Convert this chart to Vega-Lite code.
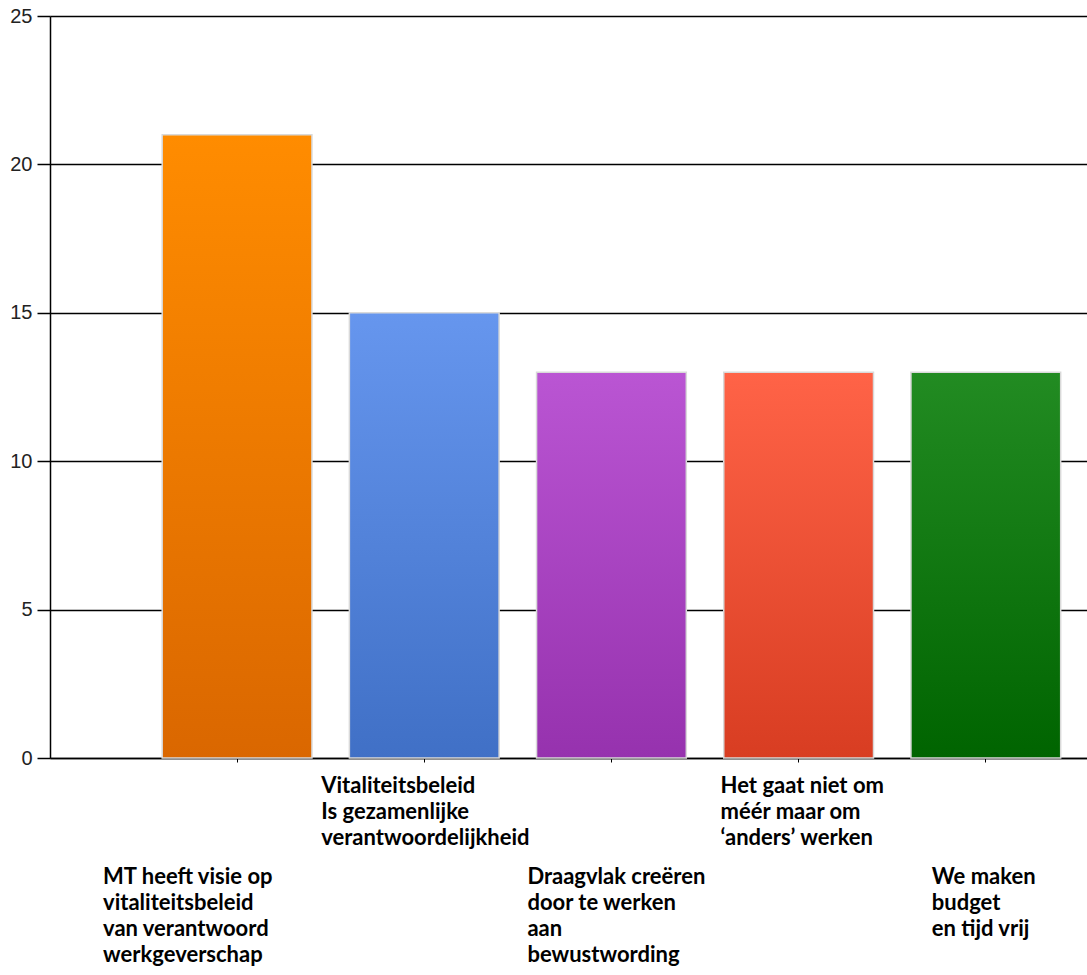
{
  "$schema": "https://vega.github.io/schema/vega-lite/v6.json",
  "width": 1037,
  "height": 742,
  "autosize": {"type": "none"},
  "padding": {"left": 50, "top": 16, "right": 0, "bottom": 217},
  "background": "white",
  "config": {"view": {"stroke": null}},
  "data": {
    "values": [
      {"nr": 1, "thema": "MT heeft visie op|vitaliteitsbeleid|van verantwoord|werkgeverschap", "aantal": 21},
      {"nr": 2, "thema": "Vitaliteitsbeleid|Is gezamenlijke|verantwoordelijkheid", "aantal": 15},
      {"nr": 3, "thema": "Draagvlak creëren|door te werken|aan|bewustwording", "aantal": 13},
      {"nr": 4, "thema": "Het gaat niet om|méér maar om|‘anders’ werken", "aantal": 13},
      {"nr": 5, "thema": "We maken|budget|en tijd vrij", "aantal": 13}
    ]
  },
  "mark": {"type": "bar", "stroke": "#d9d9d9", "strokeWidth": 1.5},
  "encoding": {
    "x": {
      "field": "thema",
      "type": "nominal",
      "sort": null,
      "title": null,
      "scale": {"paddingInner": 0.2, "paddingOuter": 0.37, "align": 0.81},
      "axis": {
        "domainColor": "#000000",
        "domainWidth": 1.5,
        "tickColor": "#000000",
        "tickSize": 4,
        "grid": false,
        "labelAngle": 0,
        "labelExpr": "split(datum.label, '|')",
        "labelAlign": "left",
        "labelBaseline": "top",
        "labelFont": "Lato",
        "labelFontWeight": "bold",
        "labelFontSize": 22,
        "labelColor": "#000000",
        "labelLineHeight": 26,
        "labelLimit": 0,
        "labelOverlap": false,
        "labelOffset": {"expr": "[-134, -103, -84, -78, -54][round(datum.index * 4)]"},
        "labelPadding": {"expr": "round(datum.index * 4) % 2 == 0 ? 104 : 13"}
      }
    },
    "y": {
      "field": "aantal",
      "type": "quantitative",
      "title": null,
      "scale": {"domain": [0, 25], "nice": false},
      "axis": {
        "values": [0, 5, 10, 15, 20, 25],
        "domainColor": "#000000",
        "domainWidth": 1.5,
        "gridColor": "#000000",
        "gridWidth": 1.5,
        "gridOpacity": 1,
        "tickColor": "#000000",
        "tickWidth": 1.5,
        "tickSize": 13,
        "labelFont": "Liberation Sans",
        "labelFontSize": 20,
        "labelColor": "#222222",
        "labelPadding": 5
      }
    },
    "fill": {
      "condition": [
        {"test": "datum.nr == 1", "value": {"gradient": "linear", "x1": 0, "y1": 0, "x2": 0, "y2": 1, "stops": [{"offset": 0, "color": "#ff8c00"}, {"offset": 1, "color": "#da6700"}]}},
        {"test": "datum.nr == 2", "value": {"gradient": "linear", "x1": 0, "y1": 0, "x2": 0, "y2": 1, "stops": [{"offset": 0, "color": "#6696ee"}, {"offset": 1, "color": "#4070c6"}]}},
        {"test": "datum.nr == 3", "value": {"gradient": "linear", "x1": 0, "y1": 0, "x2": 0, "y2": 1, "stops": [{"offset": 0, "color": "#ba55d3"}, {"offset": 1, "color": "#9632ae"}]}},
        {"test": "datum.nr == 4", "value": {"gradient": "linear", "x1": 0, "y1": 0, "x2": 0, "y2": 1, "stops": [{"offset": 0, "color": "#ff6347"}, {"offset": 1, "color": "#d83d22"}]}}
      ],
      "value": {"gradient": "linear", "x1": 0, "y1": 0, "x2": 0, "y2": 1, "stops": [{"offset": 0, "color": "#228b22"}, {"offset": 1, "color": "#006400"}]}
    }
  }
}
